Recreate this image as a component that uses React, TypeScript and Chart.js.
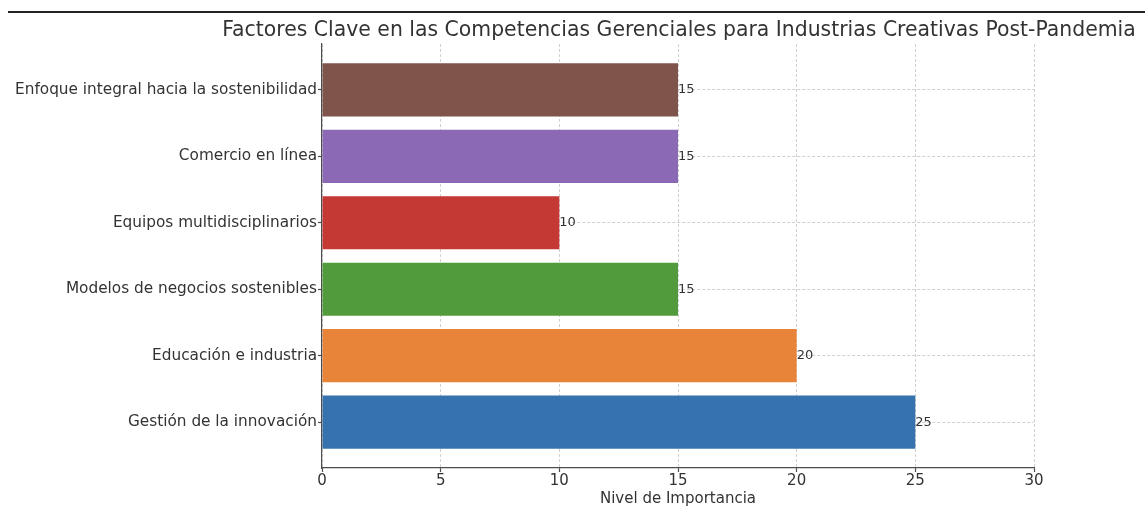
import React, { useEffect, useRef } from "react";
import { Chart, registerables } from "chart.js";

Chart.register(...registerables);

// Bottom-to-top order of the horizontal bars
const categories = [
  "Gestión de la innovación",
  "Educación e industria",
  "Modelos de negocios sostenibles",
  "Equipos multidisciplinarios",
  "Comercio en línea",
  "Enfoque integral hacia la sostenibilidad",
];
const importance = [25, 20, 15, 10, 15, 15];
const barColors = ["#3673ae", "#e8833a", "#519b3c", "#c43934", "#8b69b5", "#7f544a"];
const xTicks = [0, 5, 10, 15, 20, 25, 30];

const chartTitle = "Factores Clave en las Competencias Gerenciales para Industrias Creativas Post-Pandemia";
const xAxisTitle = "Nivel de Importancia";

const FONT = "'DejaVu Sans', 'Liberation Sans', sans-serif";
const TEXT = "#333333";

const W = 1145;
const H = 508;

const decorations = {
  id: "decorations",
  afterDraw(chart: any) {
    const { ctx, chartArea } = chart;
    const cx = (chartArea.left + chartArea.right) / 2;
    ctx.save();
    // rule across the top of the figure
    ctx.fillStyle = "#222222";
    ctx.fillRect(8, 11, W - 8, 2);

    ctx.fillStyle = TEXT;
    ctx.textAlign = "center";
    ctx.textBaseline = "middle";
    ctx.font = `20.4px ${FONT}`;
    ctx.fillText(chartTitle, cx + 1, 31);

    ctx.font = `15px ${FONT}`;
    ctx.fillText(xAxisTitle, cx, 499);

    // value labels at the end of each bar
    const meta = chart.getDatasetMeta(0);
    ctx.font = `13px ${FONT}`;
    ctx.textAlign = "left";
    meta.data.forEach((el: any, i: number) => {
      ctx.fillText(String(importance[i]), el.x, el.y);
    });
    ctx.restore();
  },
};

export default function App() {
  const canvasRef = useRef<HTMLCanvasElement | null>(null);

  useEffect(() => {
    if (!canvasRef.current) return;
    Chart.defaults.font.family = FONT;
    const gridOpts = {
      color: "rgba(176,176,176,0.6)",
      lineWidth: 1,
      tickLength: 4,
      tickColor: "#4d4d4d",
      tickWidth: 1.2,
      tickBorderDash: [],
      offset: false,
    };
    const borderOpts = { display: true, color: "#4d4d4d", width: 1.2, dash: [3, 2] };
    const chart = new Chart(canvasRef.current, {
      type: "bar",
      data: {
        datasets: [
          {
            data: importance.map((v, i) => ({ x: v, y: i })),
            backgroundColor: barColors,
            borderWidth: 0,
            barPercentage: 0.8,
            categoryPercentage: 1,
          },
        ],
      },
      options: {
        indexAxis: "y",
        animation: false,
        responsive: false,
        maintainAspectRatio: false,
        layout: { padding: { left: 0, right: 111, top: 44, bottom: 0 } },
        plugins: {
          legend: { display: false },
          title: { display: false },
          tooltip: { enabled: false },
        },
        scales: {
          x: {
            type: "linear",
            position: "bottom",
            min: 0,
            max: 30,
            z: 1,
            offset: false,
            afterBuildTicks: (scale: any) => {
              scale.ticks = xTicks.map((v) => ({ value: v }));
            },
            afterFit: (scale: any) => {
              scale.height = 40;
            },
            ticks: {
              font: { size: 15 },
              color: TEXT,
              padding: 0,
              maxRotation: 0,
            },
            grid: gridOpts,
            border: borderOpts,
          },
          y: {
            type: "linear",
            position: "left",
            min: -0.69,
            max: 5.69,
            z: 1,
            offset: false,
            afterBuildTicks: (scale: any) => {
              scale.ticks = categories.map((_, i) => ({ value: i }));
            },
            afterFit: (scale: any) => {
              scale.width = 322;
            },
            ticks: {
              font: { size: 15.3 },
              color: TEXT,
              padding: 1,
              callback: (v: any) => categories[Math.round(Number(v))] ?? "",
            },
            grid: gridOpts,
            border: borderOpts,
          },
        },
      } as any,
      plugins: [decorations],
    });
    return () => chart.destroy();
  }, []);

  return (
    <div style={{ position: "absolute", left: 0, top: 0, width: W, height: H, background: "#fff" }}>
      <canvas ref={canvasRef} width={W} height={H} style={{ display: "block", width: W, height: H }} />
    </div>
  );
}
